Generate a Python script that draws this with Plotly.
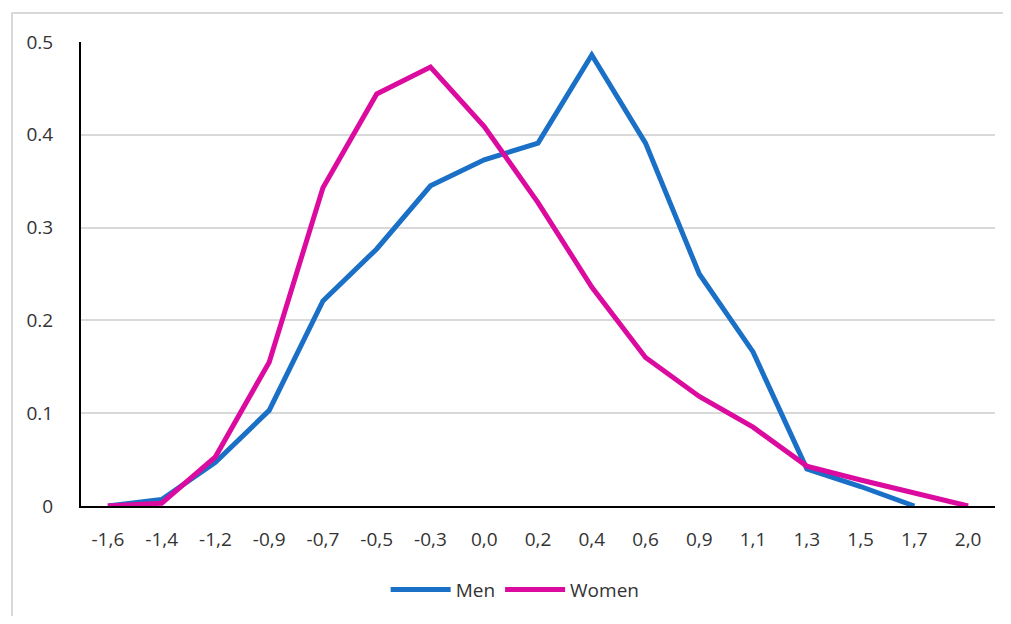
import plotly.graph_objects as go

categories = ["-1,6", "-1,4", "-1,2", "-0,9", "-0,7", "-0,5", "-0,3", "0,0", "0,2",
              "0,4", "0,6", "0,9", "1,1", "1,3", "1,5", "1,7", "2,0"]
men = [0.0, 0.007, 0.047, 0.103, 0.221, 0.277, 0.345, 0.373, 0.391,
       0.486, 0.391, 0.250, 0.166, 0.040, 0.021, 0.0, None]
women = [0.0, 0.003, 0.053, 0.155, 0.343, 0.444, 0.473, 0.409, 0.327,
         0.236, 0.160, 0.118, 0.085, 0.043, 0.028, 0.014, 0.0]
y_ticks = [0, 0.1, 0.2, 0.3, 0.4, 0.5]
y_labels = ["0", "0.1", "0.2", "0.3", "0.4", "0.5"]

MEN_COLOR = "#1a6fc6"
WOMEN_COLOR = "#dc0b9f"
FONT = "Open Sans, Noto Sans, sans-serif"
TEXT = "#333333"

fig = go.Figure()
fig.add_trace(go.Scatter(x=categories, y=men, name="Men", mode="lines",
                         line=dict(color=MEN_COLOR, width=5), connectgaps=False))
fig.add_trace(go.Scatter(x=categories, y=women, name="Women", mode="lines",
                         line=dict(color=WOMEN_COLOR, width=5)))

fig.update_layout(
    width=995, height=608,
    margin=dict(l=73, r=8, t=34, b=109),
    paper_bgcolor="white", plot_bgcolor="white",
    font=dict(family=FONT, size=19, color=TEXT),
    showlegend=True,
    legend=dict(orientation="h", x=0.475, xanchor="center", y=-0.178, yanchor="middle",
                font=dict(size=19, color=TEXT), itemwidth=60, traceorder="normal"),
    shapes=[dict(type="rect", xref="paper", yref="paper",
                 x0=-0.0755, x1=1.1, y0=-0.4, y1=1.0624,
                 line=dict(color="#d9d9d9", width=2), layer="below")],
)
fig.update_xaxes(type="category", categoryorder="array", categoryarray=categories,
                 range=[-0.5, len(categories) - 0.5],
                 showline=True, linecolor="black", linewidth=2,
                 showgrid=False, ticks="", ticklabelstandoff=15,
                 tickfont=dict(size=19, color=TEXT), zeroline=False)
fig.update_yaxes(range=[0, 0.5], tickvals=y_ticks, ticktext=y_labels,
                 showline=True, linecolor="black", linewidth=2,
                 showgrid=True, gridcolor="#d9d9d9", gridwidth=2,
                 ticks="", ticklabelstandoff=22, zeroline=False,
                 tickfont=dict(size=19, color=TEXT))

fig.write_html("out.html")
